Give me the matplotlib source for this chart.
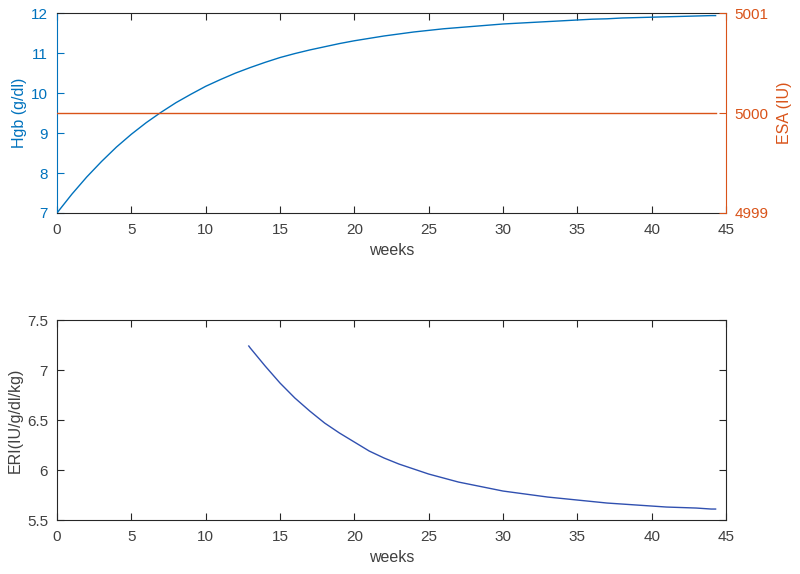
import matplotlib
matplotlib.use('Agg')
from matplotlib import pyplot as plt

plt.rcParams['font.family'] = ['Liberation Sans', 'DejaVu Sans']

# hemoglobin response
weeks = [0, 1, 2, 3, 4, 5, 6, 7, 8, 9, 10, 11, 12, 13, 14, 15, 16, 17, 18, 19,
         20, 21, 22, 23, 24, 25, 26, 27, 28, 29, 30, 31, 32, 33, 34, 35, 36, 37,
         38, 39, 40, 41, 42, 43, 44, 44.3]
hgb = [7.00, 7.47, 7.90, 8.29, 8.65, 8.97, 9.26, 9.52, 9.76, 9.97, 10.17,
       10.34, 10.50, 10.64, 10.77, 10.89, 10.99, 11.08, 11.16, 11.24, 11.31,
       11.37, 11.43, 11.48, 11.53, 11.57, 11.61, 11.64, 11.67, 11.70, 11.73,
       11.75, 11.77, 11.79, 11.81, 11.83, 11.85, 11.86, 11.88, 11.89, 11.90,
       11.91, 11.92, 11.93, 11.94, 11.94]

# ESA dose stays flat
esa_weeks = [0, 44.3]
esa = [5000, 5000]

# ERI only shows up from week ~13
eri_weeks = [12.9, 13, 14, 15, 16, 17, 18, 19, 20, 21, 22, 23, 24, 25, 26, 27,
             28, 29, 30, 31, 32, 33, 34, 35, 36, 37, 38, 39, 40, 41, 42, 43,
             44, 44.3]
eri = [7.24, 7.22, 7.04, 6.87, 6.72, 6.59, 6.47, 6.37, 6.28, 6.19, 6.12,
       6.06, 6.01, 5.96, 5.92, 5.88, 5.85, 5.82, 5.79, 5.77, 5.75, 5.73,
       5.715, 5.70, 5.685, 5.67, 5.66, 5.65, 5.64, 5.63, 5.625, 5.62, 5.61, 5.61]

blue = '#0072BD'
orange = '#D95319'
dark = '#262626'
txt = '#404040'
fs = 11

fig = plt.figure(figsize=(8, 5.74), dpi=100)

# top panel with two y axes
ax1 = fig.add_axes([0.07125, 0.629, 0.83625, 0.348])
ax1.plot(weeks, hgb, color=blue, lw=1.0)
ax1.set_xlim(0, 45)
ax1.set_ylim(7, 12)
ax1.set_xticks(range(0, 46, 5))
ax1.set_yticks(range(7, 13))
ax1.tick_params(axis='x', direction='in', top=True, length=5, color=dark,
                labelcolor=txt, labelsize=fs, width=0.8, pad=7.5)
ax1.tick_params(axis='y', direction='in', right=True, length=5, color=blue,
                labelcolor=blue, labelsize=fs, width=0.8, pad=6.5)
ax1.set_xlabel('weeks', fontsize=fs + 0.5, color=txt, labelpad=4)
ax1.set_ylabel('Hgb (g/dl)', fontsize=fs + 0.5, color=blue, labelpad=3)
ax1.spines['left'].set_color(blue)
ax1.spines['top'].set_color(dark)
ax1.spines['bottom'].set_color(dark)
ax1.spines['right'].set_visible(False)

ax2 = ax1.twinx()
ax2.plot(esa_weeks, esa, color=orange, lw=1.0)
ax2.set_ylim(4999, 5001)
ax2.set_yticks([4999, 5000, 5001])
ax2.tick_params(axis='y', direction='in', length=5, color=orange,
                labelcolor=orange, labelsize=fs, width=0.8, pad=6)
ax2.set_ylabel('ESA (IU)', fontsize=fs + 0.5, color=orange, labelpad=6)
for s in ['left', 'top', 'bottom']:
    ax2.spines[s].set_visible(False)
ax2.spines['right'].set_color(orange)

# bottom panel
ax3 = fig.add_axes([0.07125, 0.094, 0.83625, 0.3485])
ax3.plot(eri_weeks, eri, color='#3050B0', lw=1.0)
ax3.set_xlim(0, 45)
ax3.set_ylim(5.5, 7.5)
ax3.set_xticks(range(0, 46, 5))
ax3.set_yticks([5.5, 6, 6.5, 7, 7.5])
ax3.set_yticklabels(['5.5', '6', '6.5', '7', '7.5'])
ax3.tick_params(axis='x', direction='in', top=True, length=5, color=dark,
                labelcolor=txt, labelsize=fs, width=0.8, pad=7.5)
ax3.tick_params(axis='y', direction='in', right=True, length=5, color=dark,
                labelcolor=txt, labelsize=fs, width=0.8, pad=6.5)
ax3.set_xlabel('weeks', fontsize=fs + 0.5, color=txt, labelpad=4)
ax3.set_ylabel('ERI(IU/g/dl/kg)', fontsize=fs + 0.5, color=txt, labelpad=3)
for s in ax3.spines.values():
    s.set_color(dark)

plt.savefig('out.png', dpi=100)
